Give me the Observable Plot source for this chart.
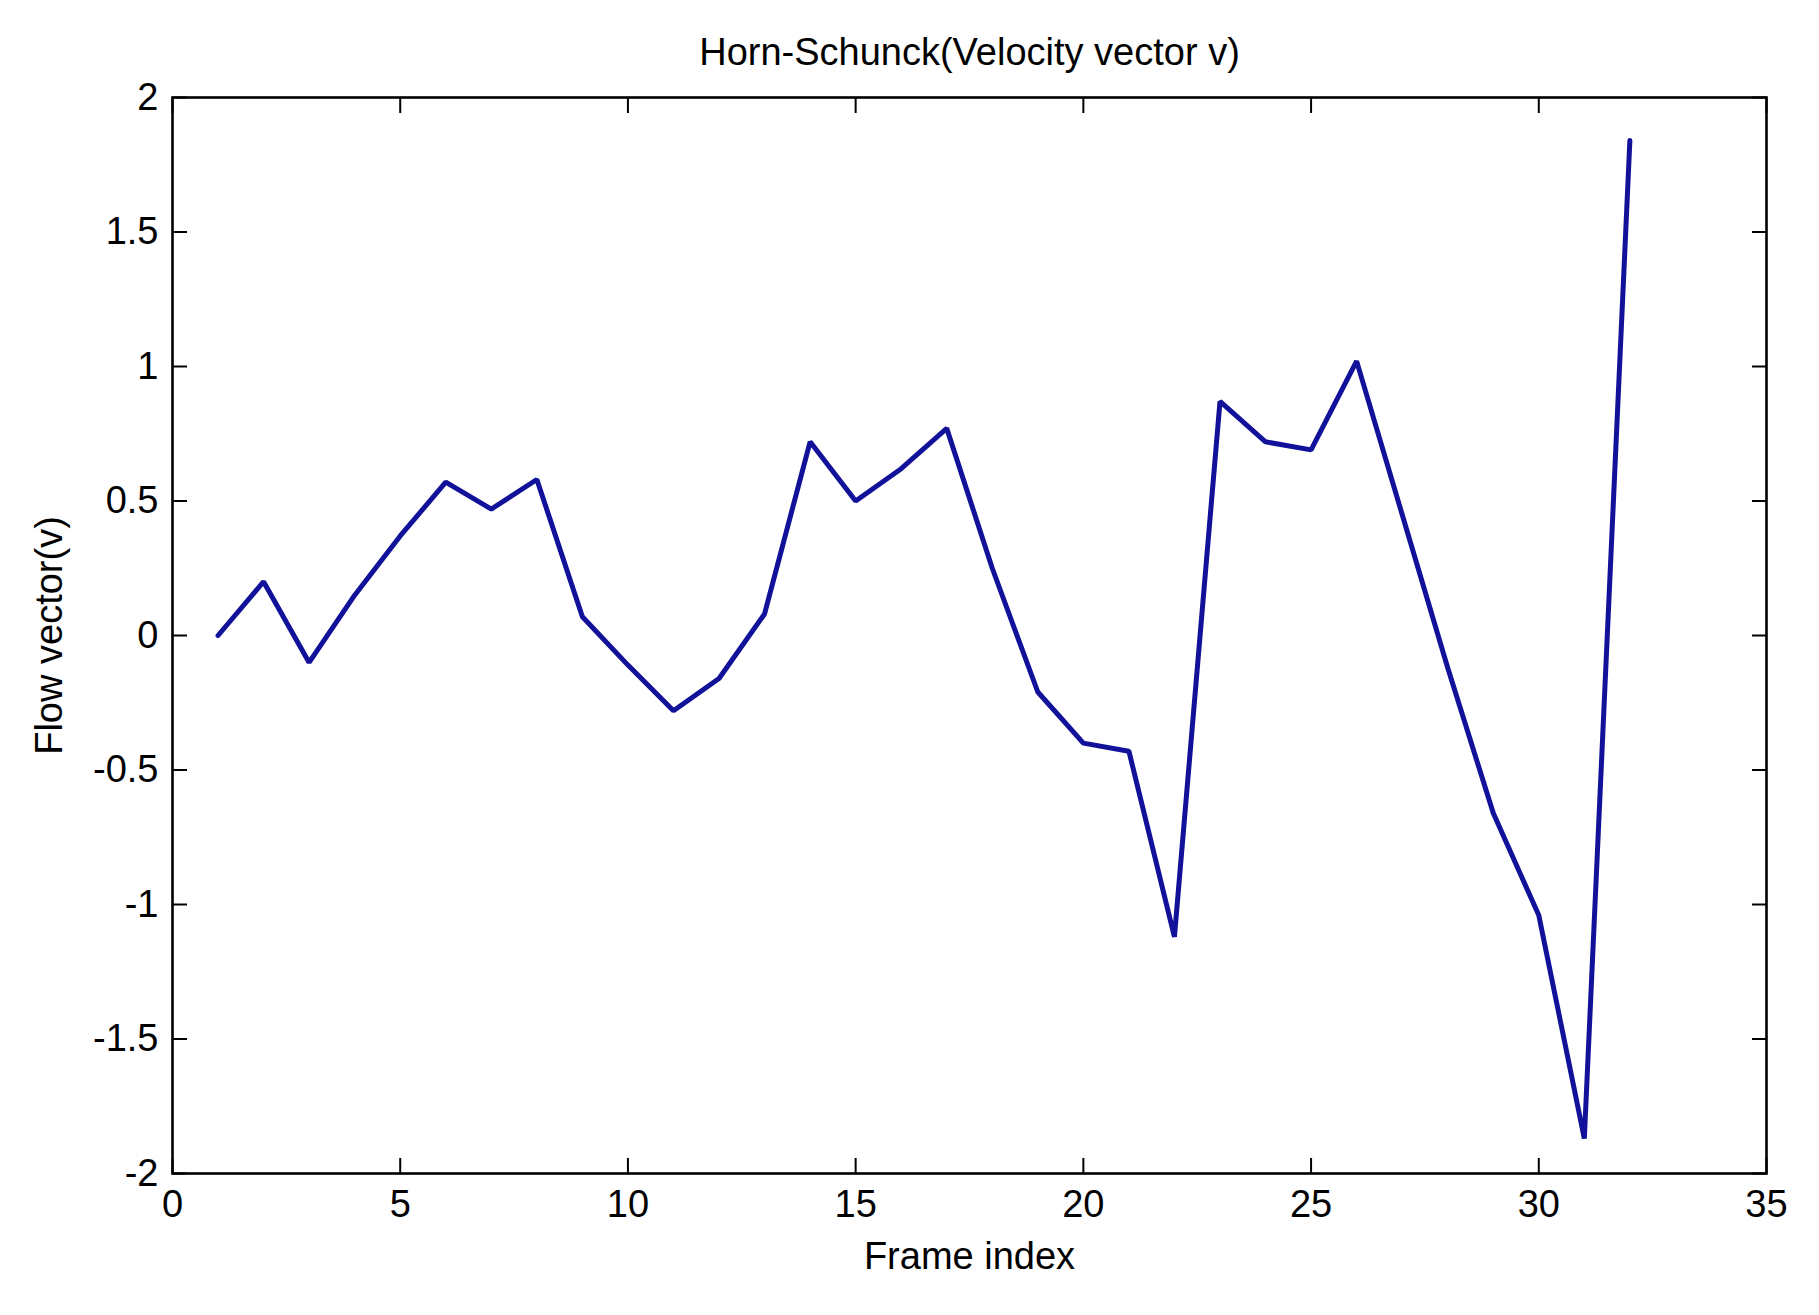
<!DOCTYPE html>
<html>
<head>
<meta charset="utf-8">
<script src="https://cdn.jsdelivr.net/npm/d3@7"></script>
<script src="https://cdn.jsdelivr.net/npm/@observablehq/plot@0.6"></script>
<style>
  html, body { margin: 0; padding: 0; background: #fff; }
  #chart svg { display: block; }
</style>
</head>
<body>
<div id="chart"></div>
<script>
// ---- Data ----
const frames = [1, 2, 3, 4, 5, 6, 7, 8, 9, 10, 11, 12, 13, 14, 15, 16,
                17, 18, 19, 20, 21, 22, 23, 24, 25, 26, 27, 28, 29, 30, 31, 32];
const flowV  = [0.00, 0.20, -0.10, 0.15, 0.37, 0.57, 0.47, 0.58, 0.07, -0.11, -0.28, -0.16, 0.08, 0.72, 0.50, 0.62,
                0.77, 0.25, -0.21, -0.40, -0.43, -1.12, 0.87, 0.72, 0.69, 1.02, 0.45, -0.12, -0.66, -1.04, -1.87, 1.84];
const xTicks = [0, 5, 10, 15, 20, 25, 30, 35];
const yTicks = [-2, -1.5, -1, -0.5, 0, 0.5, 1, 1.5, 2];
const titleText = "Horn-Schunck(Velocity vector v)";
const xLabel = "Frame index";
const yLabel = "Flow vector(v)";

const data = frames.map((f, i) => ({frame: f, v: flowV[i]}));

const font = "'Liberation Sans Narrow', 'Liberation Sans', Arial, sans-serif";
const fmt = d => String(d);

const chart = Plot.plot({
  width: 1819,
  height: 1315,
  marginLeft: 172,
  marginRight: 53,
  marginTop: 97,
  marginBottom: 142,
  style: {background: "#ffffff", fontFamily: font, fontSize: "38px", color: "#000"},
  x: {domain: [0, 35], ticks: xTicks},
  y: {domain: [-2, 2], ticks: yTicks},
  marks: [
    Plot.frame({stroke: "#000", strokeWidth: 2.6}),
    Plot.axisX(xTicks, {anchor: "bottom", tickSize: -15, tickPadding: 32, strokeWidth: 2, tickFormat: fmt, label: null, fontSize: 38, fill: "#000"}),
    Plot.axisX(xTicks, {anchor: "top", tickSize: -15, tickFormat: () => "", label: null, strokeWidth: 2}),
    Plot.axisY(yTicks, {anchor: "left", tickSize: -15, tickPadding: 29, strokeWidth: 2, tickFormat: fmt, label: null, fontSize: 38, fill: "#000"}),
    Plot.axisY(yTicks, {anchor: "right", tickSize: -15, tickFormat: () => "", label: null, strokeWidth: 2}),
    Plot.lineY(data, {x: "frame", y: "v", stroke: "#11119a", strokeWidth: 5, strokeLinejoin: "miter"}),
    Plot.text([titleText], {frameAnchor: "top", dy: -45, fontSize: 38, fill: "#000", lineAnchor: "middle"}),
    Plot.text([xLabel], {frameAnchor: "bottom", dy: 83, fontSize: 38, fill: "#000", lineAnchor: "middle"}),
    Plot.text([yLabel], {frameAnchor: "left", dx: -123, rotate: -90, textAnchor: "middle", fontSize: 38, fill: "#000", lineAnchor: "middle"})
  ]
});
document.getElementById("chart").appendChild(chart);
</script>
</body>
</html>
